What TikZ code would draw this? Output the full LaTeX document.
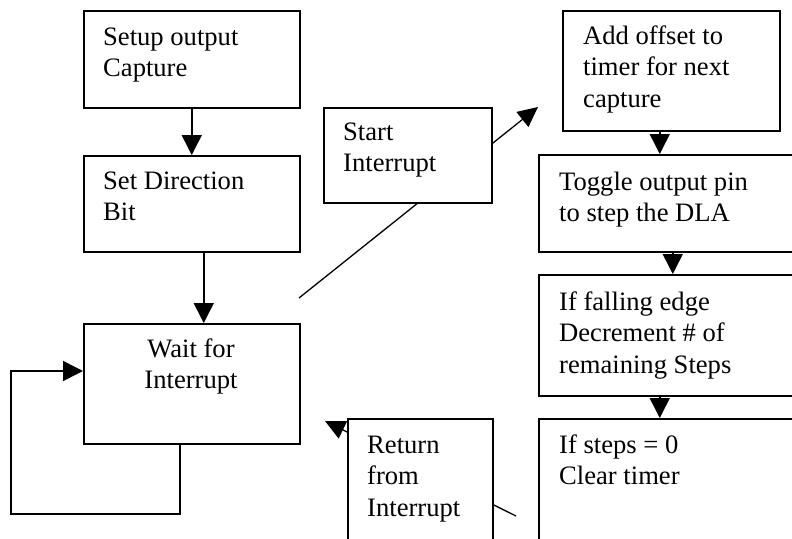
\documentclass[tikz,border=0pt]{standalone}
\usepackage{fontspec}
\setmainfont{Liberation Serif}
\usetikzlibrary{arrows.meta}
\begin{document}
\begin{tikzpicture}[x=1pt,y=-1pt,
  box/.style={draw, line width=1.5pt, fill=white, anchor=north west, inner sep=0pt},
  txt/.style={anchor=base west, inner sep=0pt, font=\fontsize{26.6}{31.5}\selectfont},
  ctxt/.style={anchor=base, inner sep=0pt, font=\fontsize{26.6}{31.5}\selectfont},
  arr/.style={line width=1.5pt, -{Triangle[length=20pt,width=20pt]}},
  ln/.style={line width=1.3pt}]
\clip (0,0) rectangle (792,538);
% diagonal connectors (partly hidden by boxes)
\coordinate (d1) at (299,298);
\coordinate (d2) at (538,107);
\coordinate (r1) at (516,516);
\coordinate (r2) at (325,421);
\draw[ln, -{Triangle[length=20pt,width=19pt]}] (d1) -- (d2);
\draw[ln, -{Triangle[length=20pt,width=19pt]}] (r1) -- (r2);
% boxes
\node[box, minimum width=216pt, minimum height=97pt] (b1) at (83,10) {};
\node[box, minimum width=216pt, minimum height=96pt] (b2) at (83,155) {};
\node[box, minimum width=216pt, minimum height=120pt] (b3) at (83,323) {};
\node[box, minimum width=168pt, minimum height=95pt] (start) at (323,107) {};
\node[box, minimum width=217pt, minimum height=120pt] (add) at (562,10) {};
\node[box, minimum width=280pt, minimum height=97pt] (tog) at (538,154) {};
\node[box, minimum width=280pt, minimum height=121pt] (fall) at (538,274) {};
\node[box, minimum width=280pt, minimum height=160pt] (steps) at (538,418) {};
\node[box, minimum width=145pt, minimum height=160pt] (ret) at (347,418) {};
% texts
\node[txt] (t1) at (103,45) {\parbox[t]{190pt}{Setup output\\Capture}};
\node[txt] (t2) at (103,189) {\parbox[t]{190pt}{Set Direction\\Bit}};
\node[ctxt] (t3) at (191,357) {\parbox[t]{200pt}{\centering Wait for\\Interrupt}};
\node[txt] (t4) at (343,140) {\parbox[t]{140pt}{Start\\Interrupt}};
\node[txt] (t5) at (583,44) {\parbox[t]{190pt}{Add offset to\\timer for next\\capture}};
\node[txt] (t6) at (559,190) {\parbox[t]{230pt}{Toggle output pin\\to step the DLA}};
\node[txt] (t7) at (559,310) {\parbox[t]{230pt}{If falling edge\\Decrement \# of\\remaining Steps}};
\node[txt] (t8) at (559,453) {\parbox[t]{230pt}{If steps = 0\\Clear timer}};
\node[txt] (t9) at (367,453) {\parbox[t]{120pt}{Return\\from\\Interrupt}};
% vertical connectors
\draw[arr] (b1.south) -- (b2.north);
\draw[arr] ([xshift=12pt]b2.south) -- ([xshift=12pt]b3.north);
\draw[arr] ([xshift=-11.5pt]add.south) -- ([xshift=-11.5pt]add.south |- tog.north);
\draw[arr] ([xshift=-6pt]tog.south) -- ([xshift=-6pt]fall.north);
\draw[arr] ([xshift=-19pt]fall.south) -- ([xshift=-19pt]steps.north);
% loop
\coordinate (lp1) at (11,514);
\coordinate (lp2) at (11,371);
\draw[arr] ([xshift=-12pt]b3.south) |- (lp1) -- (lp2) -- (lp2 -| b3.west);
\end{tikzpicture}
\end{document}
